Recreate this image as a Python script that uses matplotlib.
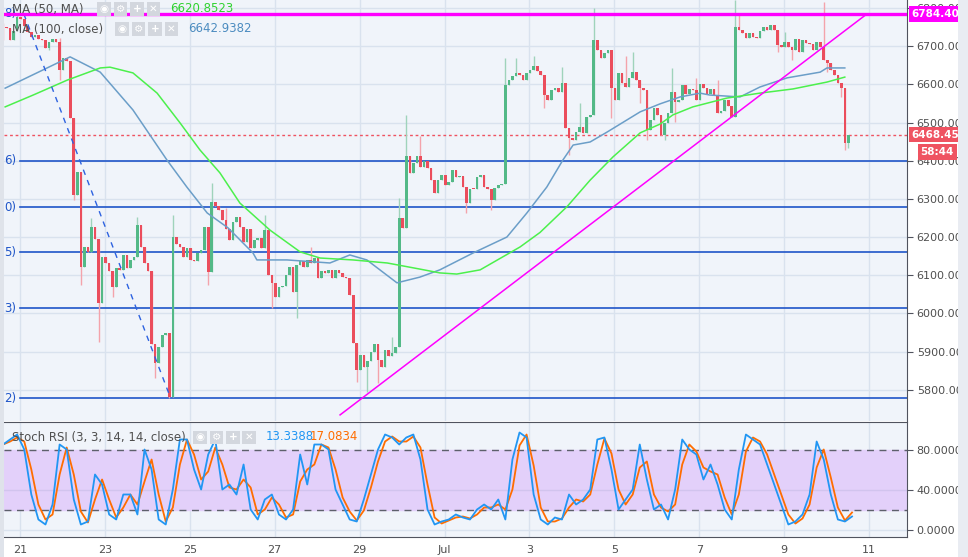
import numpy as np
import matplotlib.pyplot as plt
from matplotlib.patches import Rectangle
from matplotlib.transforms import blended_transform_factory

W, H = 968, 557

# 2h candles (close prices), x = June day number (Jul 1 = 31)
t_start = 20.6
closes = [
    6750, 6748, 6716, 6740, 6777, 6770, 6752, 6738, 6725, 6730, 6718, 6716, 6695, 6710, 6718, 6712,
    6638, 6668, 6660, 6511, 6310, 6371, 6122, 6175, 6162, 6226, 6196, 6027, 6148, 6131, 6110, 6070,
    6120, 6113, 6153, 6118, 6140, 6148, 6231, 6175, 6131, 6110, 5921, 5870, 5913, 5943, 5948, 5782,
    6201, 6183, 6175, 6148, 6170, 6140, 6138, 6157, 6166, 6227, 6108, 6292, 6280, 6270, 6245, 6220,
    6192, 6240, 6253, 6227, 6188, 6220, 6170, 6192, 6197, 6170, 6218, 6100, 6079, 6044, 6070, 6073,
    6100, 6122, 6057, 6127, 6136, 6122, 6140, 6131, 6145, 6092, 6110, 6105, 6114, 6092, 6114, 6105,
    6096, 6092, 6048, 5922, 5852, 5891, 5860, 5874, 5900, 5921, 5878, 5860, 5904, 5887, 5895, 5913,
    6249, 6223, 6411, 6367, 6393, 6411, 6384, 6400, 6380, 6350, 6315, 6350, 6363, 6336, 6345, 6376,
    6358, 6360, 6330, 6290, 6327, 6325, 6358, 6363, 6332, 6325, 6298, 6328, 6336, 6340, 6598, 6611,
    6621, 6630, 6625, 6612, 6629, 6638, 6647, 6634, 6625, 6572, 6560, 6585, 6590, 6581, 6603, 6485,
    6459, 6455, 6476, 6489, 6472, 6515, 6520, 6716, 6690, 6668, 6681, 6690, 6590, 6559, 6629, 6603,
    6594, 6616, 6633, 6612, 6590, 6585, 6480, 6506, 6537, 6520, 6467, 6498, 6524, 6581, 6555, 6560,
    6598, 6576, 6589, 6585, 6559, 6602, 6590, 6576, 6589, 6572, 6524, 6530, 6559, 6542, 6515, 6751,
    6742, 6734, 6721, 6734, 6725, 6721, 6740, 6751, 6743, 6756, 6743, 6703, 6699, 6712, 6699, 6690,
    6720, 6686, 6716, 6708, 6706, 6690, 6710, 6699, 6664, 6655, 6638, 6625, 6603, 6590, 6446, 6468,
]
first_open = 6756
hi_wick = {0: 6762, 4: 6785, 16: 6721, 25: 6249, 38: 6253, 48: 6258, 59: 6341, 63: 6275,
           74: 6258, 87: 6175, 110: 5939, 112: 6301, 114: 6520, 118: 6465, 142: 6668,
           145: 6668, 150: 6673, 158: 6646, 163: 6550, 167: 6799, 176: 6673, 178: 6686,
           189: 6642, 196: 6616, 202: 6611, 207: 6821, 208: 6782, 221: 6738, 232: 6817}
lo_wick = {0: 6716, 13: 6690, 16: 6611, 20: 6297, 22: 6074, 27: 5926, 31: 6044, 43: 5830,
           47: 5777, 58: 6074, 76: 6013, 83: 5987, 100: 5821, 103: 5795, 106: 5817,
           131: 6262, 138: 6271, 153: 6537, 160: 6415, 172: 6511, 180: 6550, 182: 6454,
           187: 6454, 190: 6502, 219: 6686, 223: 6664, 233: 6633, 237: 6568, 238: 6428,
           239: 6432}

ma50_t = [20.65, 21.31, 22.11, 22.89, 23.12, 23.66, 24.23, 24.77, 25.24, 25.71, 26.18, 26.89,
          27.6, 28.07, 28.84, 29.65, 30.42, 30.89, 31.29, 31.84, 32.78, 33.25, 33.89, 34.43,
          34.97, 35.61, 36.08, 36.38, 36.85, 37.65, 38.43, 39.21, 40.01, 40.43]
ma50_v = [6541, 6572, 6611, 6643, 6645, 6630, 6577, 6499, 6428, 6368, 6289, 6218,
          6161, 6145, 6140, 6132, 6116, 6106, 6103, 6114, 6174, 6212, 6280, 6349,
          6410, 6473, 6496, 6520, 6541, 6564, 6577, 6588, 6606, 6619]
ma100_t = [20.65, 22.18, 22.89, 23.66, 24.46, 24.93, 25.41, 25.9, 26.49, 26.58, 27.29, 28.3,
           28.77, 29.17, 29.88, 30.42, 30.89, 31.67, 32.47, 32.94, 33.41, 33.79, 34.03, 34.43,
           34.83, 35.61, 36.08, 36.55, 37.02, 37.25, 37.96, 38.43, 39.07, 39.85, 40.01, 40.43]
ma100_v = [6590, 6672, 6632, 6533, 6402, 6331, 6263, 6224, 6158, 6140, 6140, 6132,
           6153, 6140, 6080, 6095, 6114, 6158, 6200, 6263, 6331, 6402, 6441, 6449,
           6475, 6528, 6549, 6567, 6577, 6572, 6567, 6593, 6617, 6632, 6643, 6643]

fib_levels = [6784.4, 6399.2, 6277.9, 6160.0, 6013.3, 5777.5]
fib_tags = ["8)", "6)", "0)", "5)", "3)", "2)"]
resistance = 6784.40
last_price = 6468.45
trend_t = [28.54, 40.95]
trend_p = [5734, 6784.4]
fall_t = [21.09, 24.55]
fall_p = [6784.4, 5777.5]

# Stoch RSI, one value every 4h
stoch_k = [85, 90, 95, 80, 35, 10, 5, 25, 85, 80, 30, 5, 8, 55, 45, 15, 10, 35, 35, 15,
           80, 60, 10, 5, 40, 90, 90, 60, 40, 75, 90, 40, 45, 35, 65, 20, 10, 30, 35, 15,
           10, 20, 75, 45, 85, 85, 80, 40, 25, 10, 8, 30, 55, 80, 95, 92, 85, 92, 95, 70,
           20, 5, 8, 10, 15, 12, 10, 20, 25, 20, 30, 10, 70, 97, 92, 35, 10, 5, 12, 10,
           35, 25, 30, 40, 90, 92, 60, 20, 30, 40, 85, 50, 20, 25, 10, 40, 90, 80, 75, 50,
           65, 45, 20, 10, 60, 95, 90, 85, 65, 45, 25, 5, 8, 15, 35, 88, 70, 35, 10, 8, 13]
stoch_d = [85, 88, 92, 88, 60, 25, 10, 15, 55, 82, 55, 18, 7, 30, 50, 30, 12, 22, 35, 25,
           48, 70, 35, 8, 22, 65, 90, 75, 50, 58, 82, 65, 42, 40, 50, 42, 15, 20, 32, 25,
           12, 15, 48, 60, 65, 85, 82, 60, 32, 18, 9, 19, 42, 68, 88, 93, 88, 88, 93, 82,
           45, 12, 6, 9, 12, 13, 11, 15, 22, 22, 25, 20, 40, 84, 95, 64, 22, 8, 8, 11,
           22, 30, 28, 35, 65, 91, 76, 40, 25, 35, 62, 68, 35, 22, 18, 25, 65, 85, 78, 62,
           58, 55, 32, 15, 35, 78, 92, 88, 75, 55, 35, 15, 6, 11, 25, 62, 80, 52, 22, 9, 17]

xtick_days = [21, 23, 25, 27, 29, 31, 33, 35, 37, 39, 41]
xtick_labels = ["21", "23", "25", "27", "29", "Jul", "3", "5", "7", "9", "11"]

up_col, dn_col = "#53b987", "#eb4d5c"
up_wick, dn_wick = "#9fd3bb", "#f4a3ab"
bg = "#f0f4fa"
grid_col = "#d9e2ee"
axis_col = "#50535e"
text_col = "#4f4f4f"

fig = plt.figure(figsize=(W / 100, H / 100), dpi=100)
fig.patch.set_facecolor("white")


def fx(x):
    return x / W


def fy(y):
    return 1 - y / H


ax = fig.add_axes([fx(4), fy(421), fx(907) - fx(4), fy(0) - fy(421)])
ax2 = fig.add_axes([fx(4), fy(537), fx(907) - fx(4), fy(422) - fy(537)])
xmin, xmax = 20.623, 41.895

for a in (ax, ax2):
    a.set_facecolor(bg)
    a.set_xlim(xmin, xmax)
    a.set_xticks(xtick_days)
    a.grid(True, color=grid_col, lw=1)
    a.set_axisbelow(True)
    for s in ("left", "top", "bottom"):
        a.spines[s].set_visible(False)
    a.spines["right"].set_color(axis_col)
    a.yaxis.tick_right()
    a.tick_params(axis="y", colors=axis_col, labelcolor=text_col, labelsize=8, length=4, pad=3)
    a.tick_params(axis="x", length=0)

# main panel
ax.set_ylim(5718, 6821)
ax.set_yticks(np.arange(5800, 6801, 100))
ax.set_yticklabels([f"{v:.2f}" for v in np.arange(5800, 6801, 100)])
ax.tick_params(axis="x", labelbottom=False)

opens = [first_open] + closes[:-1]
t = t_start + np.arange(len(closes)) / 12
for i, (o, c) in enumerate(zip(opens, closes)):
    up = c >= o
    hi = max(hi_wick.get(i, o), o, c)
    lo = min(lo_wick.get(i, o), o, c)
    ax.vlines(t[i], lo, hi, color=up_wick if up else dn_wick, lw=1, zorder=3)
    ax.bar(t[i], max(abs(c - o), 2.6), bottom=min(o, c), width=0.062,
           color=up_col if up else dn_col, lw=0, zorder=4)

ax.plot(ma100_t, ma100_v, color="#6b9ec8", lw=1.1, zorder=5)
ax.plot(ma50_t, ma50_v, color="#4cf04c", lw=1.1, zorder=5)

for lvl, tag in zip(fib_levels, fib_tags):
    ax.axhline(lvl, xmin=0.018, color="#1f55c8", lw=1.2, zorder=2)
    ax.text(20.92, lvl, tag, color="#1f55c8", fontsize=8.5, ha="right", va="center", zorder=6)

ax.plot(fall_t, fall_p, color="#2d62e0", lw=1, ls=(0, (4, 4)), zorder=5)
ax.plot(trend_t, trend_p, color="#ff00ff", lw=1.1, zorder=6)
ax.axhline(resistance, color="#ff00ff", lw=2.4, zorder=6)
ax.axhline(last_price, color="#ef5361", lw=1, ls=(0, (2, 2)), zorder=2)

tr = blended_transform_factory(ax.transAxes, ax.transData)
ax.text(1.005, resistance, "6784.40", transform=tr, color="white", fontsize=7.5, fontweight="bold",
        ha="left", va="center", zorder=10, clip_on=False,
        bbox=dict(boxstyle="square,pad=0.25", fc="#ff00ff", ec="none"))
ax.text(1.005, last_price, "6468.45", transform=tr, color="white", fontsize=7.5, fontweight="bold",
        ha="left", va="center", zorder=10, clip_on=False,
        bbox=dict(boxstyle="square,pad=0.25", fc="#ef5361", ec="none"))
fig.text(fx(954), fy(152), "58:44", color="white", fontsize=7.5, fontweight="bold",
         ha="right", va="center", zorder=10,
         bbox=dict(boxstyle="square,pad=0.3", fc="#ef5361", ec="none"))

# stoch panel
ax2.set_ylim(-7.5, 107.5)
ax2.set_yticks([0, 40, 80])
ax2.set_yticklabels(["0.0000", "40.0000", "80.0000"])
ax2.spines["top"].set_visible(True)
ax2.spines["top"].set_color(axis_col)
ax2.spines["bottom"].set_visible(True)
ax2.spines["bottom"].set_color(axis_col)
ax2.set_xticklabels(xtick_labels)
ax2.tick_params(axis="x", labelsize=8, labelcolor=text_col, pad=6)
ax2.grid(axis="y", visible=False)
ax2.axhspan(20, 80, color="#e3d0fa", zorder=1)
ax2.axhline(40, color="#d2c4ee", lw=1, zorder=1)
ax2.axhline(0, color=grid_col, lw=1, zorder=1)
for lvl in (20, 80):
    ax2.axhline(lvl, color="#5d606b", lw=1, ls=(0, (5, 4)), zorder=2)
ax2.plot(t_start + np.arange(len(stoch_k)) / 6, stoch_k, color="#2196f3", lw=1.3, zorder=4)
ax2.plot(t_start + np.arange(len(stoch_d)) / 6, stoch_d, color="#ff6d00", lw=1.3, zorder=3)

# side strips
fig.add_artist(Rectangle((0, 0), fx(4), 1, transform=fig.transFigure, fc="#dfe3ea", ec="none"))
fig.add_artist(Rectangle((fx(958), 0), 1 - fx(958), 1, transform=fig.transFigure, fc="#e9ecf2", ec="none"))


def legend_row(x0, y, label, icon_x, value, vcol, vx):
    fig.text(fx(x0), fy(y), label, color=text_col, fontsize=8.5, va="center", ha="left", zorder=11)
    for k, sym in enumerate(["◉", "⚙", "+", "✕"]):
        bx = icon_x + k * 16.5
        fig.add_artist(Rectangle((fx(bx), fy(y + 7)), 13.5 / W, 13.5 / H, transform=fig.transFigure,
                                 fc="#d3d7de", ec="none", zorder=11))
        fig.text(fx(bx + 6.75), fy(y), sym, color="white", fontsize=7.5, fontweight="bold",
                 ha="center", va="center", zorder=12)
    fig.text(fx(vx), fy(y), value, color=vcol, fontsize=8.5, va="center", ha="left", zorder=11)


legend_row(12, 9, "MA (50, MA)", 97, "6620.8523", "#2fd22f", 170)
legend_row(12, 29, "MA (100, close)", 115, "6642.9382", "#4c8cc0", 188)
legend_row(12, 437, "Stoch RSI (3, 3, 14, 14, close)", 193, "13.3388", "#2196f3", 266)
fig.text(fx(310), fy(437), "17.0834", color="#ff6d00", fontsize=8.5, va="center", ha="left", zorder=11)

fig.savefig("out.png", dpi=100)
